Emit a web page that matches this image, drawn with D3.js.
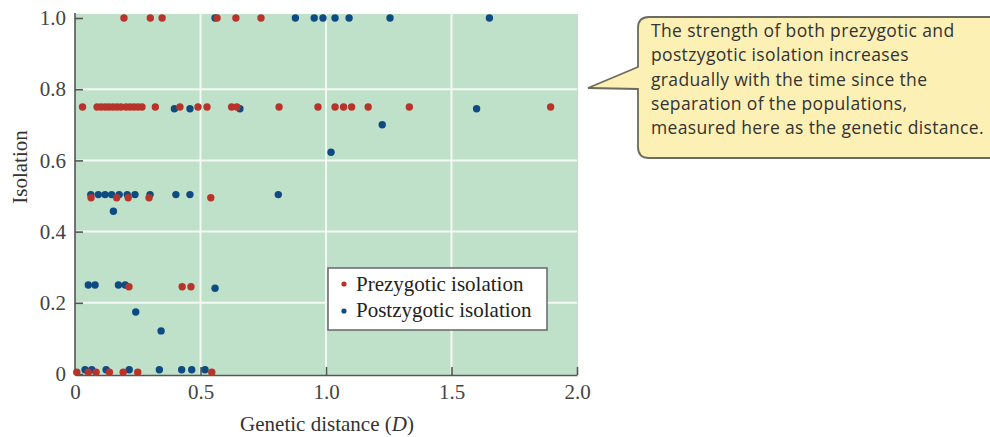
<!DOCTYPE html>
<html lang="en">
<head>
<meta charset="utf-8">
<title>Isolation vs genetic distance</title>
<script src="https://d3js.org/d3.v7.min.js"></script>
<style>
  body { margin: 0; background: #fff; }
  svg { display: block; }
  .tick text { font-family: "Liberation Serif", "DejaVu Serif", serif; font-size: 21px; fill: #444; }
  .tick line, .domain { stroke: #555; stroke-width: 1.6; }
  .axis-title { font-family: "Liberation Serif", "DejaVu Serif", serif; font-size: 21px; fill: #333; }
  .legend text { font-family: "Liberation Serif", "DejaVu Serif", serif; font-size: 21px; fill: #222; }
  .callout text { font-family: "Open Sans", sans-serif; font-size: 17.5px; letter-spacing: 0.35px; fill: #333; }
</style>
</head>
<body>
<svg id="chart" width="990" height="437"></svg>
<script>
// [genetic distance D, isolation]
const prezygotic = [
  [0.195, 1], [0.30, 1], [0.347, 1], [0.566, 1], [0.641, 1], [0.741, 1],
  [0.03, 0.75], [0.088, 0.75], [0.104, 0.75], [0.12, 0.75], [0.135, 0.75], [0.151, 0.75],
  [0.167, 0.75], [0.183, 0.75], [0.203, 0.75], [0.219, 0.75], [0.235, 0.75], [0.251, 0.75],
  [0.267, 0.75], [0.32, 0.75], [0.418, 0.75], [0.49, 0.75], [0.526, 0.75], [0.624, 0.75],
  [0.645, 0.75], [0.813, 0.75], [0.968, 0.75], [1.036, 0.75], [1.07, 0.75], [1.102, 0.75],
  [1.168, 0.75], [1.332, 0.75], [1.895, 0.75],
  [0.064, 0.495], [0.166, 0.495], [0.212, 0.495], [0.295, 0.495], [0.541, 0.495],
  [0.215, 0.245], [0.427, 0.245], [0.462, 0.245],
  [0.007, 0.005], [0.053, 0.005], [0.084, 0.005], [0.137, 0.005], [0.192, 0.005],
  [0.25, 0.005], [0.545, 0.005]
];
const postzygotic = [
  [0.558, 1], [0.878, 1], [0.953, 1], [0.988, 1], [1.036, 1], [1.092, 1], [1.255, 1], [1.651, 1],
  [0.396, 0.745], [0.458, 0.745], [0.657, 0.745], [1.6, 0.745],
  [1.224, 0.70], [1.02, 0.623],
  [0.063, 0.504], [0.093, 0.504], [0.12, 0.504], [0.146, 0.504], [0.176, 0.504], [0.208, 0.504],
  [0.239, 0.504], [0.299, 0.504], [0.402, 0.504], [0.458, 0.504], [0.81, 0.504],
  [0.153, 0.457],
  [0.053, 0.25], [0.08, 0.25], [0.173, 0.25], [0.2, 0.25],
  [0.558, 0.241], [0.242, 0.174], [0.343, 0.121],
  [0.04, 0.012], [0.067, 0.012], [0.124, 0.012], [0.216, 0.012], [0.336, 0.012],
  [0.425, 0.012], [0.465, 0.012], [0.518, 0.012]
];
const xTicks = [0, 0.5, 1.0, 1.5, 2.0];
const yTicks = [0, 0.2, 0.4, 0.6, 0.8, 1.0];
const legendLabels = ["Prezygotic isolation", "Postzygotic isolation"];
const calloutLines = [
  "The strength of both prezygotic and",
  "postzygotic isolation increases",
  "gradually with the time since the",
  "separation of the populations,",
  "measured here as the genetic distance."
];

const red = "#b8342b", blue = "#0e4b82";
const svg = d3.select("#chart");

const x = d3.scaleLinear().domain([0, 2]).range([75, 577]);
const y = d3.scaleLinear().domain([0, 1]).range([374, 18]);

// plot background
svg.append("rect")
  .attr("x", x(0)).attr("y", 14)
  .attr("width", x(2) - x(0) + 1).attr("height", y(0) + 1 - 14)
  .attr("fill", "#c0e1c9");

// white grid
svg.append("g").selectAll("line")
  .data(yTicks.filter(d => d > 0 && d < 1))
  .join("line")
  .attr("x1", x(0)).attr("x2", x(2))
  .attr("y1", d => y(d)).attr("y2", d => y(d))
  .attr("stroke", "#f4f8f4").attr("stroke-width", 2);
svg.append("g").selectAll("line")
  .data(xTicks.filter(d => d > 0 && d < 2))
  .join("line")
  .attr("y1", 14).attr("y2", y(0))
  .attr("x1", d => x(d)).attr("x2", d => x(d))
  .attr("stroke", "#f4f8f4").attr("stroke-width", 2);

const fmt = d => d === 0 ? "0" : d3.format(".1f")(d);

svg.append("g")
  .attr("transform", `translate(${x(0)},0)`)
  .call(d3.axisLeft(y).tickValues(yTicks).tickFormat(fmt).tickSize(-8).tickSizeOuter(0).tickPadding(9))
  .call(g => g.select(".domain").attr("d", `M0,13V${y(0) + 1}`));

svg.append("g")
  .attr("transform", `translate(0,${y(0) + 1})`)
  .call(d3.axisBottom(x).tickValues(xTicks).tickFormat(fmt).tickSize(-8).tickSizeOuter(0).tickPadding(9))
  .call(g => g.selectAll(".tick").filter(d => d === 0).select("line").remove());

// axis titles
svg.append("text").attr("class", "axis-title")
  .attr("transform", "translate(27,167) rotate(-90)")
  .attr("text-anchor", "middle")
  .text("Isolation");

const xt = svg.append("text").attr("class", "axis-title")
  .attr("x", 327).attr("y", 431)
  .attr("text-anchor", "middle");
xt.append("tspan").text("Genetic distance (");
xt.append("tspan").attr("font-style", "italic").text("D");
xt.append("tspan").text(")");

// points
svg.append("g").selectAll("circle")
  .data(postzygotic).join("circle")
  .attr("cx", d => x(d[0])).attr("cy", d => y(d[1])).attr("r", 3.7)
  .attr("fill", blue);
svg.append("g").selectAll("circle")
  .data(prezygotic).join("circle")
  .attr("cx", d => x(d[0])).attr("cy", d => y(d[1])).attr("r", 3.7)
  .attr("fill", red);

// legend
const lg = svg.append("g").attr("class", "legend");
lg.append("rect")
  .attr("x", 328).attr("y", 268).attr("width", 219).attr("height", 62)
  .attr("fill", "#fff").attr("stroke", "#666").attr("stroke-width", 1.5);
lg.selectAll("circle").data(legendLabels).join("circle")
  .attr("cx", 344).attr("cy", (d, i) => 284 + i * 27).attr("r", 2.6)
  .attr("fill", (d, i) => i === 0 ? red : blue);
lg.selectAll("text").data(legendLabels).join("text")
  .attr("x", 356).attr("y", (d, i) => 291 + i * 26)
  .text(d => d);

// callout
const co = svg.append("g").attr("class", "callout");
co.append("path")
  .attr("d", "M649,17H1004V158H649Q638,158 638,147V89L588,88L638,67V28Q638,17 649,17Z")
  .attr("fill", "#fcf0b5").attr("stroke", "#6b6b5e").attr("stroke-width", 1.8);
co.selectAll("text").data(calloutLines).join("text")
  .attr("x", 651).attr("y", (d, i) => 37 + i * 24.3)
  .text(d => d);
</script>
</body>
</html>
